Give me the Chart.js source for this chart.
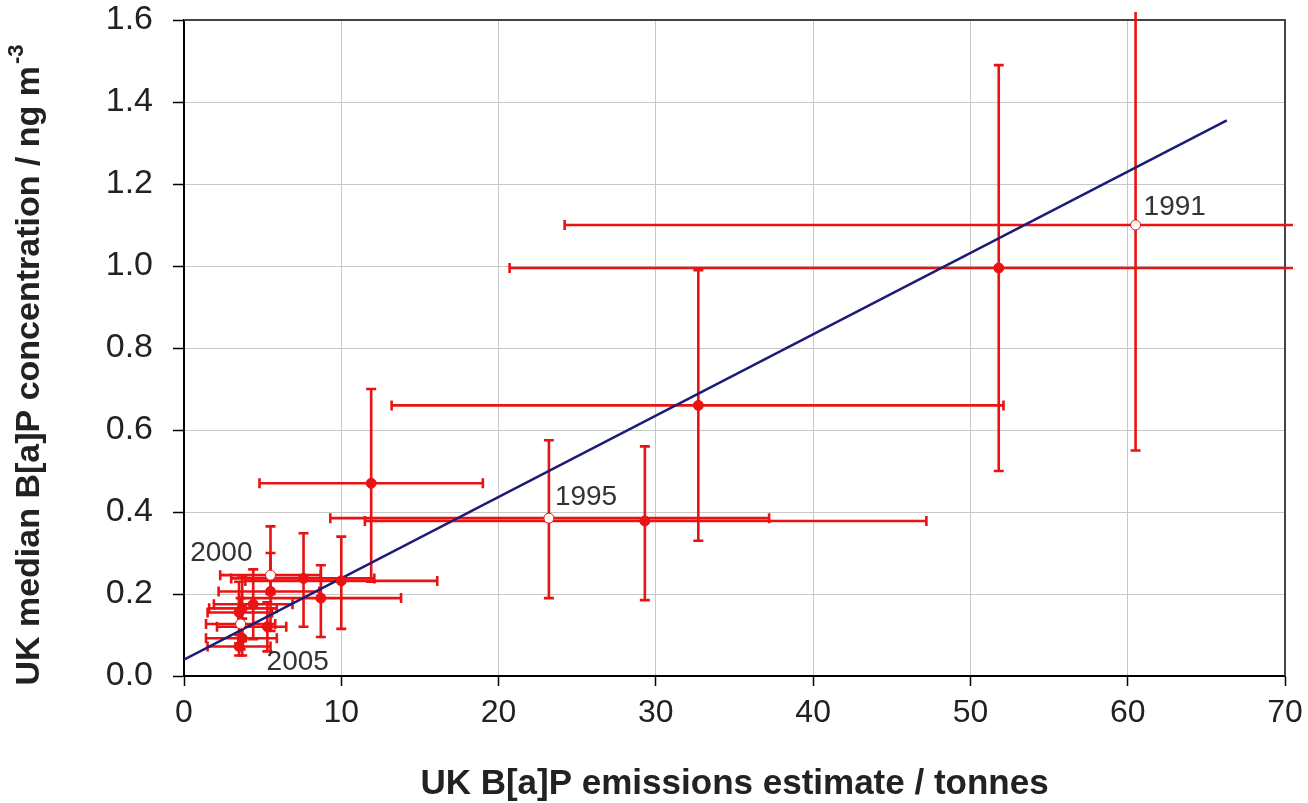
<!DOCTYPE html>
<html>
<head>
<meta charset="utf-8">
<title>UK B[a]P emissions vs concentration</title>
<script src="https://cdn.jsdelivr.net/npm/chart.js@4/dist/chart.umd.min.js"></script>
<style>
  html, body { margin: 0; padding: 0; background: #fff; }
  #chart { display: block; }
</style>
</head>
<body>
<canvas id="chart" width="1308" height="803"></canvas>
<script>
// Annual UK values, 1991 onwards
const years = ['1991', '1992', '1993', '1994', '1995', '1996', '1997', '1998', '1999',
               '2000', '2001', '2002', '2003', '2004', '2005', '2006', '2007', '2008'];
const emissions = [60.5, 51.8, 32.7, 29.3, 23.2, 11.9, 10.0, 8.7, 7.6,
                   5.5, 5.5, 4.4, 3.7, 3.5, 3.6, 5.3, 3.7, 3.5];
const concentrations = [1.10, 0.995, 0.66, 0.378, 0.385, 0.47, 0.232, 0.19, 0.238,
                        0.246, 0.206, 0.175, 0.165, 0.155, 0.127, 0.12, 0.092, 0.072];
// uncertainty ranges
const emissionsLow = [24.2, 20.7, 13.2, 11.5, 9.3, 4.8, 3.9, 3.5, 3.0,
                      2.3, 2.2, 1.9, 1.6, 1.5, 1.4, 2.1, 1.4, 1.5];
const emissionsHigh = [96.8, 82.9, 52.1, 47.2, 37.2, 19.0, 16.1, 13.8, 12.1,
                       8.7, 8.6, 6.9, 5.9, 5.6, 5.8, 6.5, 5.9, 5.5];
const concLow = [0.55, 0.50, 0.33, 0.185, 0.19, 0.23, 0.115, 0.095, 0.12,
                 0.20, 0.11, 0.09, 0.085, 0.08, 0.065, 0.06, 0.05, 0.05];
const concHigh = [1.65, 1.49, 0.99, 0.56, 0.575, 0.70, 0.34, 0.27, 0.348,
                  0.365, 0.30, 0.26, 0.245, 0.23, 0.19, 0.18, 0.14, 0.10];
// years shown with an open marker and a label
const labelledYears = ['1991', '1995', '2000', '2005'];
// fitted regression line
const fitX = [0, 66.3];
const fitY = [0.04, 1.355];

const xTicks = [0, 10, 20, 30, 40, 50, 60, 70];
const yTicks = [0, 0.2, 0.4, 0.6, 0.8, 1.0, 1.2, 1.4, 1.6];

const xTitle = 'UK B[a]P emissions estimate / tonnes';
const yTitle = 'UK median B[a]P concentration / ng m';
const yTitleSup = '-3';

const RED = '#ea1212';
const NAVY = '#1c1c78';
const FONT = '"Liberation Sans", Arial, sans-serif';

const points = emissions.map((x, i) => ({ x: x, y: concentrations[i] }));
const isOpen = years.map(y => labelledYears.includes(y));

// frame around the plot area (top and right sides)
const framePlugin = {
    id: 'frame',
    beforeDatasetsDraw(chart) {
        const { ctx, chartArea: a } = chart;
        ctx.save();
        ctx.strokeStyle = '#444';
        ctx.lineWidth = 2;
        ctx.beginPath();
        ctx.moveTo(a.left, a.top);
        ctx.lineTo(a.right, a.top);
        ctx.lineTo(a.right, a.bottom);
        ctx.stroke();
        ctx.restore();
    }
};

// horizontal and vertical error bars with end caps, cut off a little past the plot edge
const errorBarPlugin = {
    id: 'errorBars',
    beforeDatasetsDraw(chart) {
        const { ctx, chartArea: a, scales: { x, y } } = chart;
        const cap = 5;
        const overhang = 8;
        ctx.save();
        ctx.beginPath();
        ctx.rect(a.left - overhang, a.top - overhang,
                 a.right - a.left + 2 * overhang, a.bottom - a.top + 2 * overhang);
        ctx.clip();
        ctx.strokeStyle = RED;
        ctx.lineWidth = 2.6;
        ctx.lineCap = 'butt';
        emissions.forEach((e, i) => {
            const px = x.getPixelForValue(e);
            const py = y.getPixelForValue(concentrations[i]);
            const x0 = x.getPixelForValue(emissionsLow[i]);
            const x1 = x.getPixelForValue(emissionsHigh[i]);
            const y0 = y.getPixelForValue(concLow[i]);
            const y1 = y.getPixelForValue(concHigh[i]);
            ctx.beginPath();
            ctx.moveTo(x0, py); ctx.lineTo(x1, py);
            ctx.moveTo(x0, py - cap); ctx.lineTo(x0, py + cap);
            ctx.moveTo(x1, py - cap); ctx.lineTo(x1, py + cap);
            ctx.moveTo(px, y0); ctx.lineTo(px, y1);
            ctx.moveTo(px - cap, y0); ctx.lineTo(px + cap, y0);
            ctx.moveTo(px - cap, y1); ctx.lineTo(px + cap, y1);
            ctx.stroke();
        });
        ctx.restore();
    }
};

// year labels next to the open markers
const yearLabelPlugin = {
    id: 'yearLabels',
    afterDatasetsDraw(chart) {
        const { ctx, scales: { x, y } } = chart;
        const offsets = {
            '1991': [8, -18, 'left'],
            '1995': [6, -21, 'left'],
            '2000': [-18, -22, 'right'],
            '2005': [26, 38, 'left']
        };
        ctx.save();
        ctx.font = '28px ' + FONT;
        ctx.fillStyle = '#333';
        ctx.textBaseline = 'middle';
        years.forEach((yr, i) => {
            if (!isOpen[i]) return;
            const [dx, dy, align] = offsets[yr];
            ctx.textAlign = align;
            ctx.fillText(yr, x.getPixelForValue(emissions[i]) + dx,
                             y.getPixelForValue(concentrations[i]) + dy);
        });
        ctx.restore();
    }
};

// rotated y axis title with a superscript exponent
const yTitlePlugin = {
    id: 'yTitle',
    afterDraw(chart) {
        const { ctx, chartArea: a } = chart;
        const mainFont = 'bold 34px ' + FONT;
        const supFont = 'bold 22px ' + FONT;
        ctx.save();
        ctx.font = mainFont;
        const w = ctx.measureText(yTitle).width;
        ctx.font = supFont;
        const ws = ctx.measureText(yTitleSup).width;
        ctx.translate(30, (a.top + a.bottom) / 2 + 17);
        ctx.rotate(-Math.PI / 2);
        ctx.fillStyle = '#222';
        ctx.textAlign = 'left';
        ctx.textBaseline = 'middle';
        const start = -(w + ws + 2) / 2;
        ctx.font = mainFont;
        ctx.fillText(yTitle, start, 0);
        ctx.font = supFont;
        ctx.fillText(yTitleSup, start + w + 2, -13);
        ctx.restore();
    }
};

new Chart(document.getElementById('chart'), {
    type: 'scatter',
    data: {
        datasets: [
            {
                label: 'Annual median',
                data: points,
                order: 1,
                pointRadius: 5,
                pointHoverRadius: 5,
                pointBackgroundColor: isOpen.map(o => o ? '#ffffff' : RED),
                pointBorderColor: RED,
                pointBorderWidth: 1,
                showLine: false
            },
            {
                label: 'Linear fit',
                data: fitX.map((v, i) => ({ x: v, y: fitY[i] })),
                order: 2,
                showLine: true,
                borderColor: NAVY,
                borderWidth: 2.5,
                pointRadius: 0,
                fill: false
            }
        ]
    },
    options: {
        responsive: false,
        animation: false,
        layout: { padding: { top: 20, right: 23, left: 0, bottom: 0 } },
        plugins: {
            legend: { display: false },
            tooltip: { enabled: false }
        },
        scales: {
            x: {
                type: 'linear',
                min: 0,
                max: 70,
                afterBuildTicks: scale => { scale.ticks = xTicks.map(v => ({ value: v })); },
                afterFit: scale => {
                    scale.height = 127;
                    scale.paddingLeft = 0;
                    scale.paddingRight = 0;
                },
                border: { color: '#000', width: 2 },
                grid: { color: '#c8c8c8', lineWidth: 1, tickColor: '#000', tickLength: 10, tickWidth: 1.5 },
                ticks: {
                    color: '#222',
                    padding: 8,
                    font: { family: FONT, size: 32 },
                    callback: v => String(v)
                },
                title: {
                    display: true,
                    text: xTitle,
                    color: '#222',
                    padding: { top: 0, bottom: -2 },
                    font: { family: FONT, size: 35, weight: 'bold' }
                }
            },
            y: {
                type: 'linear',
                min: 0,
                max: 1.6,
                afterBuildTicks: scale => { scale.ticks = yTicks.map(v => ({ value: v })); },
                afterFit: scale => {
                    scale.width = 184;
                    scale.paddingTop = 0;
                    scale.paddingBottom = 0;
                },
                border: { color: '#000', width: 2 },
                grid: { color: '#c8c8c8', lineWidth: 1, tickColor: '#000', tickLength: 11, tickWidth: 1.5 },
                ticks: {
                    color: '#222',
                    padding: 20,
                    font: { family: FONT, size: 34 },
                    callback: v => v.toFixed(1)
                },
                title: { display: false }
            }
        }
    },
    plugins: [framePlugin, errorBarPlugin, yearLabelPlugin, yTitlePlugin]
});
</script>
</body>
</html>
